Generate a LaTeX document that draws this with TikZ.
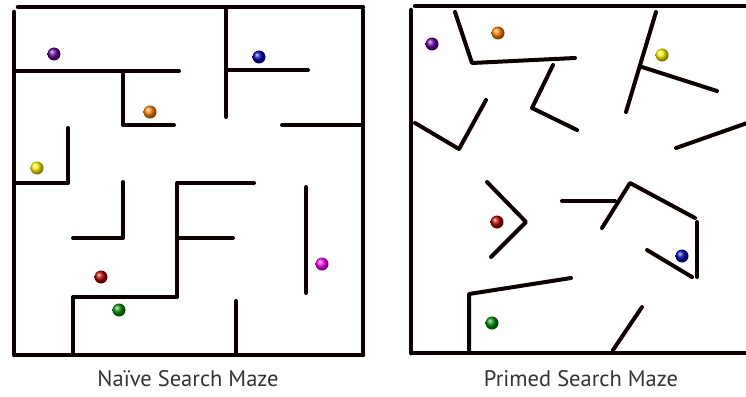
\documentclass[tikz,border=0pt]{standalone}
\usepackage{fontspec}
\setmainfont{PT Sans}
\begin{document}
\begin{tikzpicture}[x=1pt,y=-1pt,
  wall/.style={line width=4pt,draw=black!95!red,line cap=round,line join=round},
  outer/.style={line width=4.5pt,draw=black!95!red,line cap=round},
  caption/.style={font=\fontsize{22.5}{26}\selectfont,text=black!80},
  ballstyle/.style={shading=ball,ball color=#1}]
\useasboundingbox (0,0) rectangle (746,396);
% ---------- Left maze ----------
\draw[outer] (18,7) -- (363,7);
\draw[outer] (14,12) -- (14,355);
\draw[outer] (363,10) -- (363,355);
\draw[outer] (15,355) -- (363,355);
\draw[wall] (226,7) -- (226,117);
\draw[wall] (14,71) -- (179,71);
\draw[wall] (123,71) -- (123,125) -- (174,125);
\draw[wall] (226,70) -- (308,70);
\draw[wall] (282,125) -- (363,125);
\draw[wall] (68,128) -- (68,183) -- (14,183);
\draw[wall] (123,182) -- (123,238) -- (73,238);
\draw[wall] (254,183) -- (177,183) -- (177,297) -- (73,297) -- (73,355);
\draw[wall] (177,238) -- (233,238);
\draw[wall] (236,301) -- (236,355);
\draw[wall] (306,187) -- (306,293);
\shade[ballstyle=violet!80!blue] (54,54) circle (6.5);
\shade[ballstyle=blue!70!black] (259,57) circle (6.5);
\shade[ballstyle=orange] (150,112) circle (6.5);
\shade[ballstyle=yellow!90!orange] (37,168) circle (6.5);
\shade[ballstyle=red!70!black] (101,277) circle (6.5);
\shade[ballstyle=green!55!black] (119,310) circle (6.5);
\shade[ballstyle=magenta] (322,264) circle (6.5);
\node[caption] (capL) at (188,379) {Naïve Search Maze};
% ---------- Right maze ----------
\draw[outer] (415,6) -- (750,6);
\draw[outer] (411,10) -- (411,353);
\draw[outer] (413,353) -- (750,353);
\draw[wall] (455,12) -- (472,63) -- (575,58);
\draw[wall] (553,65) -- (532,108) -- (577,130);
\draw[wall] (656,12) -- (626,112);
\draw[wall] (642,67) -- (717,91);
\draw[wall] (415,123) -- (459,149) -- (486,100);
\draw[wall] (676,148) -- (750,122);
\draw[wall] (487,182) -- (526,222) -- (491,257);
\draw[wall] (562,201) -- (615,201);
\draw[wall] (602,228) -- (630,183) -- (695,218);
\draw[wall] (697,222) -- (697,277);
\draw[wall] (647,250) -- (692,277);
\draw[wall] (469,353) -- (469,294) -- (571,278);
\draw[wall] (613,350) -- (642,307);
\shade[ballstyle=violet!80!blue] (432,44) circle (6.5);
\shade[ballstyle=orange] (498,33) circle (6.5);
\shade[ballstyle=yellow!90!orange] (662,55) circle (6.5);
\shade[ballstyle=red!70!black] (497,222) circle (6.5);
\shade[ballstyle=blue!70!black] (682,256) circle (6.5);
\shade[ballstyle=green!55!black] (492,323) circle (6.5);
\node[caption] (capR) at (581,379) {Primed Search Maze};
\end{tikzpicture}
\end{document}
